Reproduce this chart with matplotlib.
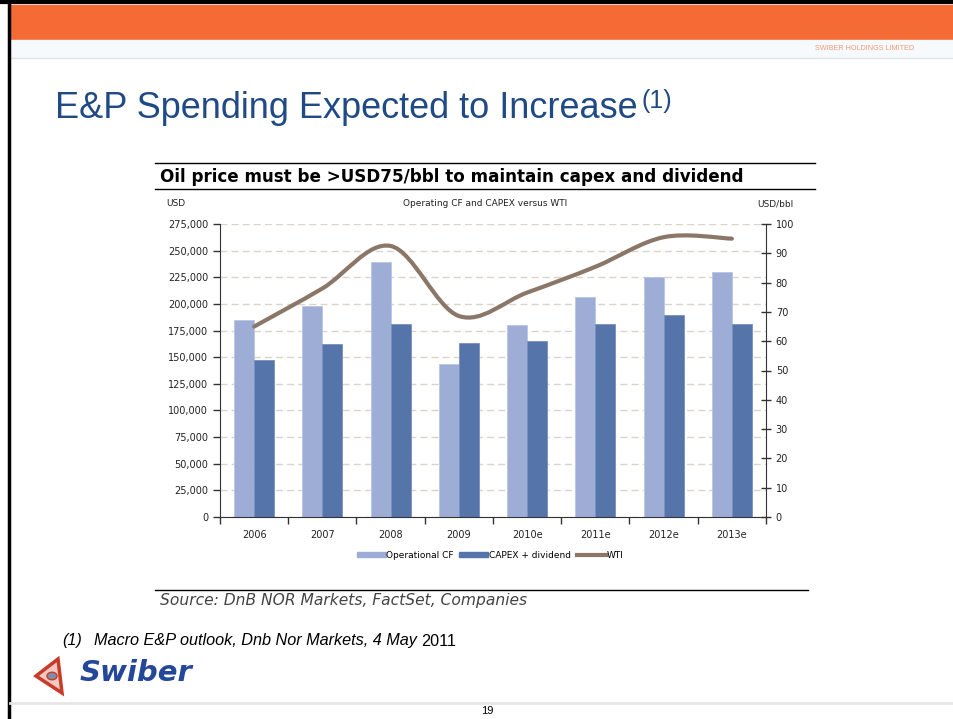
import matplotlib
matplotlib.use('Agg')
import matplotlib.pyplot as plt
from matplotlib.path import Path
from matplotlib.patches import PathPatch, Rectangle, Polygon, Circle, Patch
from matplotlib.lines import Line2D
from matplotlib.ticker import FuncFormatter, FixedLocator
import numpy as np

# data
years = ['2006', '2007', '2008', '2009', '2010e', '2011e', '2012e', '2013e']
operational_cf = [184500, 197800, 239000, 144000, 180500, 206800, 225000, 229700]
capex_dividend = [147000, 162000, 181500, 163000, 165500, 181500, 190000, 181000]
wti = [65.0, 78.0, 92.5, 68.6, 76.6, 85.4, 95.5, 95.0]

W, H = 954, 719
fig = plt.figure(figsize=(W / 100, H / 100), dpi=100)
renderer = fig.canvas.get_renderer()

def fx(px):
    return px / W

def fy(py):
    return 1 - py / H

def right_edge(t):
    # right end of a text, in figure fraction
    bb = t.get_window_extent(renderer=renderer)
    return bb.x1 / W

# slide frame
fig.patches.append(Rectangle((fx(10), fy(40)), fx(944), 35 / H, transform=fig.transFigure,
                             color='#F46B35', zorder=0))
fig.patches.append(Rectangle((fx(10), fy(58)), fx(944), 18 / H, transform=fig.transFigure,
                             color='#F7FAFC', zorder=0))
fig.lines.append(Line2D([fx(10), 1], [fy(58), fy(58)], transform=fig.transFigure, color='#E2E2E2', lw=1))
fig.lines.append(Line2D([0, 1], [fy(2), fy(2)], transform=fig.transFigure, color='black', lw=3))
fig.lines.append(Line2D([fx(9), fx(9)], [0, 1], transform=fig.transFigure, color='black', lw=2.5))
fig.text(fx(865), fy(48), 'SWIBER HOLDINGS LIMITED', fontsize=5.2, color='#EE9A7A',
         ha='center', va='center', family='Liberation Sans')

title = fig.text(fx(55), fy(108), 'E&P Spending Expected to Increase', fontsize=26,
                 color='#1F4A85', ha='left', va='center', family='Liberation Sans')
fig.text(right_edge(title) + fx(4), fy(101), '(1)', fontsize=18, color='#1F4A85',
         ha='left', va='center', family='Liberation Sans')

# chart box
fig.lines.append(Line2D([fx(155), fx(815)], [fy(163), fy(163)], transform=fig.transFigure, color='black', lw=1))
fig.lines.append(Line2D([fx(155), fx(815)], [fy(189), fy(189)], transform=fig.transFigure, color='black', lw=1))
fig.text(fx(160), fy(177), 'Oil price must be >USD75/bbl to maintain capex and dividend',
         fontsize=12.1, fontweight='bold', ha='left', va='center', color='black')
fig.text(fx(166), fy(204), 'USD', fontsize=6.5, ha='left', va='center', color='#222222')
fig.text(fx(485), fy(204), 'Operating CF and CAPEX versus WTI', fontsize=6.5, ha='center',
         va='center', color='#222222')
fig.text(fx(794), fy(204), 'USD/bbl', fontsize=6.5, ha='right', va='center', color='#222222')

ax = fig.add_axes([fx(220), fy(517), (766 - 220) / W, (517 - 224) / H])
x = np.arange(len(years))
bw = 0.293
ax.bar(x - bw / 2, operational_cf, bw, color='#9DADD6', edgecolor='#B8C6E6', lw=0.6, zorder=2)
ax.bar(x + bw / 2, capex_dividend, bw, color='#5574AA', edgecolor='#7890BE', lw=0.6, zorder=2)
ax.set_xlim(-0.5, len(years) - 0.5)
ax.set_ylim(0, 275000)
ax.set_yticks(np.arange(0, 275001, 25000))
ax.yaxis.set_major_formatter(FuncFormatter(lambda v, p: f'{int(v):,}'))
ax.grid(axis='y', color='#DCD3CB', ls=(0, (5, 3)), lw=1, zorder=0)
ax.set_axisbelow(True)
ax.set_xticks(x)
ax.set_xticklabels(years)
ax.tick_params(axis='x', length=0, pad=9, labelsize=7, labelcolor='#222222')
ax.xaxis.set_minor_locator(FixedLocator(np.arange(-0.5, len(years) + 0.5, 1)))
ax.tick_params(axis='x', which='minor', length=5, width=1, color='#333333')
ax.tick_params(axis='y', length=5, width=1, labelsize=7, labelcolor='#222222', color='#333333')
for s in ['top', 'right']:
    ax.spines[s].set_visible(False)
ax.spines['left'].set_color('#333333')
ax.spines['bottom'].set_color('#333333')

ax2 = ax.twinx()
ax2.set_ylim(0, 100)
ax2.set_yticks(np.arange(0, 101, 10))
ax2.tick_params(axis='y', direction='inout', length=7, width=1, labelsize=7,
                labelcolor='#222222', color='#333333')
for s in ['top', 'left', 'bottom']:
    ax2.spines[s].set_visible(False)
ax2.spines['right'].set_color('#333333')

# smoothed WTI line (bezier through the points)
pts = np.column_stack([x, wti])
verts = [tuple(pts[0])]
codes = [Path.MOVETO]
n = len(pts)
for i in range(n - 1):
    p0 = pts[max(i - 1, 0)]
    p1 = pts[i]
    p2 = pts[i + 1]
    p3 = pts[min(i + 2, n - 1)]
    c1 = p1 + (p2 - p0) / 6
    c2 = p2 - (p3 - p1) / 6
    verts += [tuple(c1), tuple(c2), tuple(p2)]
    codes += [Path.CURVE4] * 3
ax2.add_patch(PathPatch(Path(verts, codes), fill=False, edgecolor='#8B7768', lw=3,
                        capstyle='round', zorder=3))

handles = [Patch(color='#9DADD6', label='Operational CF'),
           Patch(color='#5574AA', label='CAPEX + dividend'),
           Line2D([], [], color='#8B7768', lw=3, label='WTI')]
fig.legend(handles=handles, loc='center', bbox_to_anchor=(fx(490), fy(555)), ncol=3,
           frameon=False, fontsize=6.5, handlelength=3.2, handleheight=0.5,
           handletextpad=0.1, columnspacing=0.6)

fig.lines.append(Line2D([fx(155), fx(808)], [fy(590), fy(590)], transform=fig.transFigure, color='black', lw=1))
fig.text(fx(160), fy(601), 'Source: DnB NOR Markets, FactSet, Companies', fontsize=11.2,
         style='italic', color='#444444', ha='left', va='center')

# footnote
fig.text(fx(62), fy(641), '(1)', fontsize=11.7, style='italic', ha='left', va='center',
         family='Liberation Sans')
foot = fig.text(fx(94), fy(641), 'Macro E&P outlook, Dnb Nor Markets, 4 May', fontsize=11.7,
                style='italic', ha='left', va='center', family='Liberation Sans')
fig.text(right_edge(foot) + fx(4), fy(641), '2011', fontsize=11.7, ha='left', va='center',
         family='Liberation Sans')

# logo
fig.patches.append(Polygon([[fx(36), fy(676)], [fx(58), fy(659)], [fx(62), fy(693)]], closed=True,
                           transform=fig.transFigure, facecolor='#F1C9C0', edgecolor='#C83A2A', lw=2.5))
fig.patches.append(Circle((fx(52), fy(676)), 5 / W, transform=fig.transFigure,
                          facecolor='#7C8FA8', edgecolor='#C83A2A', lw=1))
fig.text(fx(80), fy(673), 'Swiber', fontsize=21, fontweight='heavy', style='italic',
         color='#25479A', ha='left', va='center', family='DejaVu Sans')

fig.lines.append(Line2D([fx(10), 1], [fy(703), fy(703)], transform=fig.transFigure, color='#E6E6E6', lw=2))
fig.text(fx(487), fy(711), '19', fontsize=8, ha='center', va='center', family='Liberation Sans')

plt.savefig('out.png', dpi=100)
